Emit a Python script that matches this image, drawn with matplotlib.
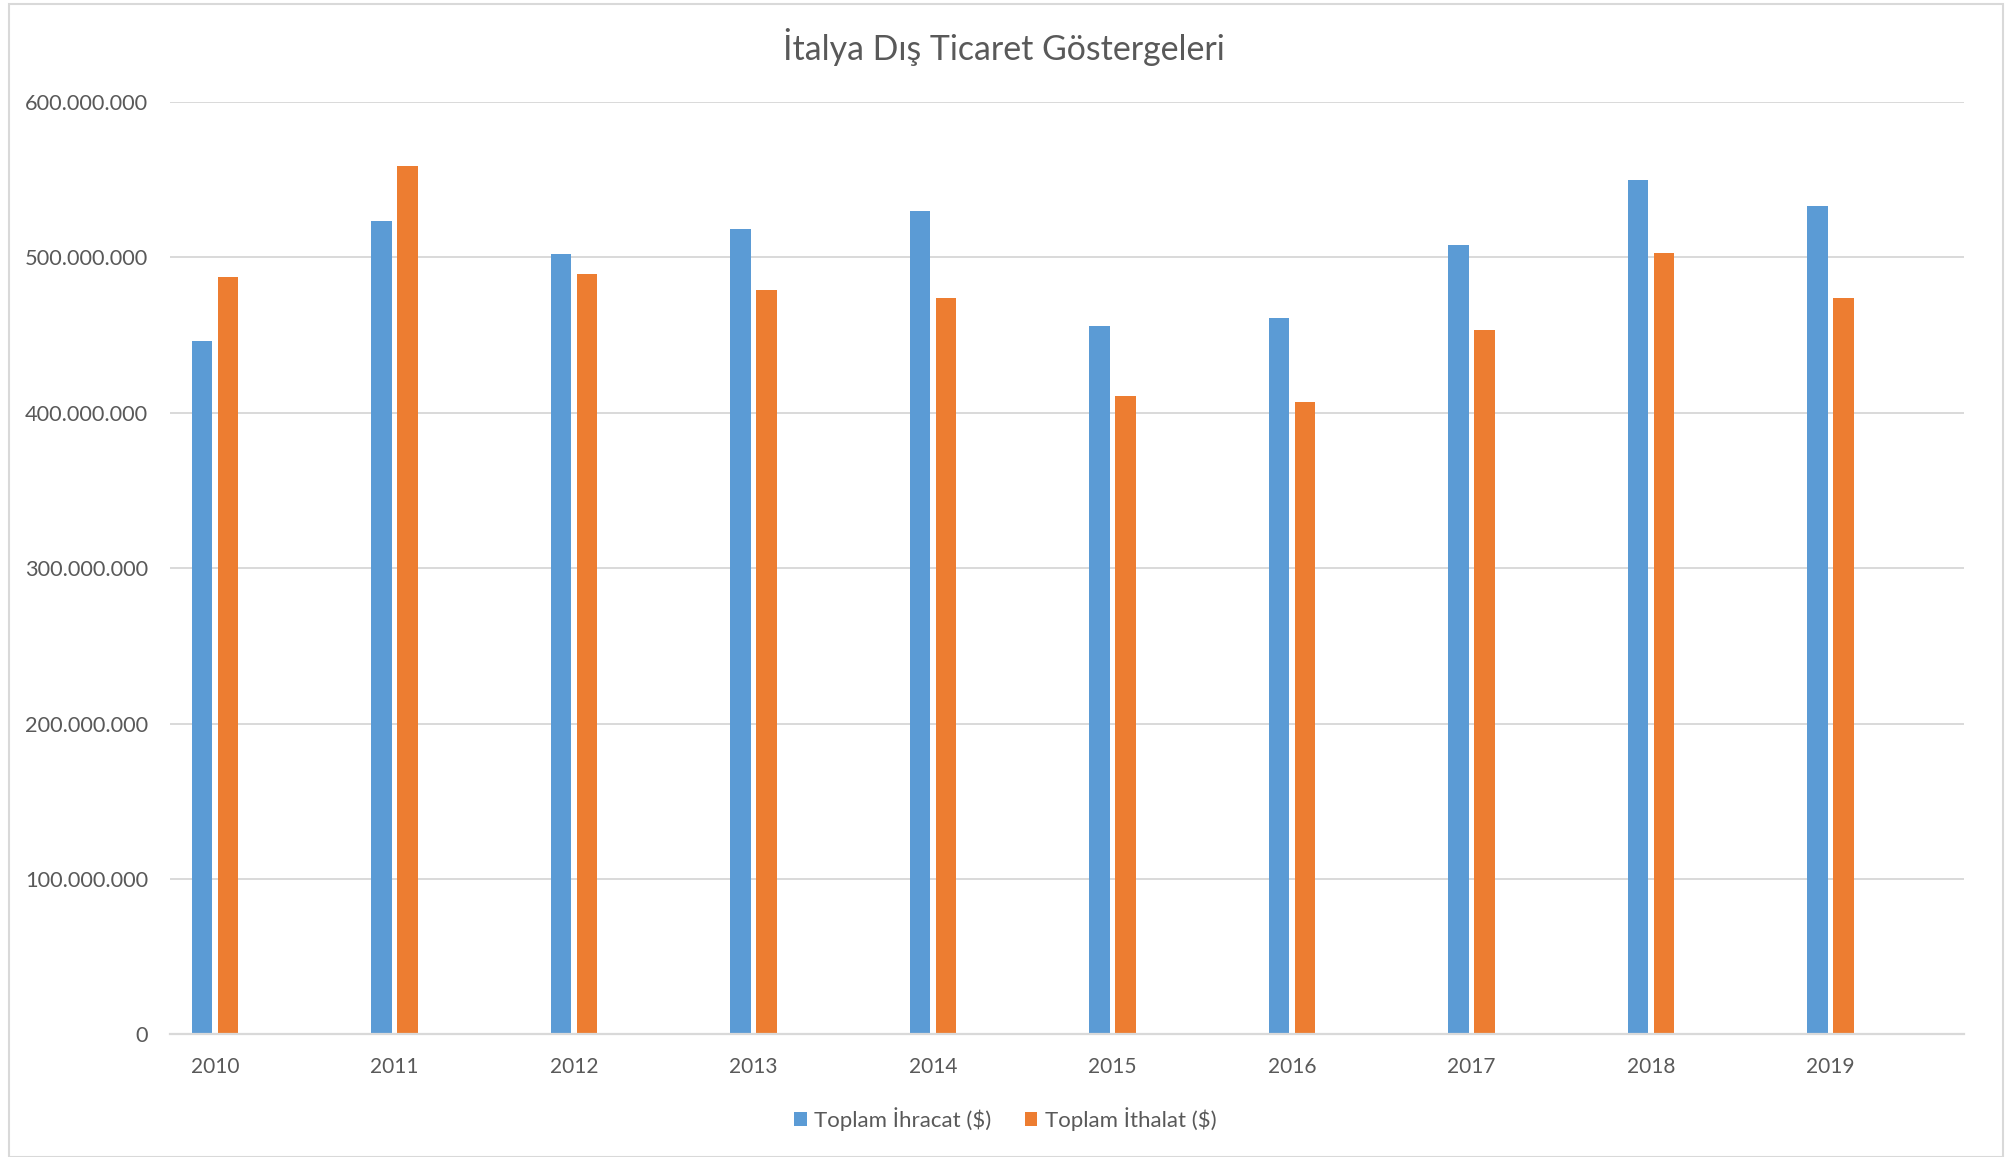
import numpy as np
import matplotlib
matplotlib.use("Agg")
import matplotlib.pyplot as plt
from matplotlib.patches import Rectangle
from matplotlib.ticker import FuncFormatter, MultipleLocator

years = ["2010", "2011", "2012", "2013", "2014", "2015", "2016", "2017", "2018", "2019"]
ihracat = [446e6, 523e6, 502e6, 518e6, 530e6, 456e6, 461e6, 508e6, 550e6, 533e6]
ithalat = [487e6, 559e6, 489e6, 479e6, 474e6, 411e6, 407e6, 453e6, 503e6, 474e6]
series_names = ["Toplam İhracat ($)", "Toplam İthalat ($)"]

BLUE = "#5B9BD5"
ORANGE = "#ED7D31"
GRID = "#D9D9D9"
TEXT = "#595959"

plt.rcParams["font.family"] = ["Lato", "DejaVu Sans"]

fig = plt.figure(figsize=(20.11, 11.57), dpi=100)
ax = fig.add_axes([0.0846, 0.106, 0.892, 0.806])

x = np.arange(len(years))
w = 0.115
off = 0.072
ax.bar(x - off, ihracat, width=w, color=BLUE, label=series_names[0], zorder=3)
ax.bar(x + off, ithalat, width=w, color=ORANGE, label=series_names[1], zorder=3)

# the category axis in the original leaves more room on the right than on the left
ax.set_xlim(-0.25, len(years) - 1 + 0.743)
ax.set_ylim(0, 600e6)
ax.yaxis.set_major_locator(MultipleLocator(100e6))
ax.yaxis.set_major_formatter(FuncFormatter(lambda v, p: f"{int(v):,}".replace(",", ".")))
ax.set_xticks(x)
ax.set_xticklabels(years)

ax.grid(axis="y", color=GRID, linewidth=1.4, zorder=0)
for s in ["top", "right", "left"]:
    ax.spines[s].set_visible(False)
ax.spines["bottom"].set_color(GRID)
ax.spines["bottom"].set_linewidth(1.6)
ax.spines["bottom"].set_zorder(4)
ax.tick_params(axis="both", length=0, labelcolor=TEXT)
ax.tick_params(axis="x", pad=16, labelsize=15)
ax.tick_params(axis="y", pad=16, labelsize=15.7)

fig.text(0.499, 0.959, "İtalya Dış Ticaret Göstergeleri", ha="center", va="center",
         fontsize=24.4, color=TEXT)

fig.legend(loc="center", bbox_to_anchor=(0.5, 0.033), ncol=2, frameon=False,
           fontsize=16, labelcolor=TEXT, handlelength=0.55, handleheight=0.55,
           handletextpad=0.35, columnspacing=1.5)

fig.patches.append(Rectangle((0.0045, 0.0), 0.9915, 0.9965, transform=fig.transFigure,
                             fill=False, edgecolor=GRID, linewidth=1.5))

fig.savefig("out.png", dpi=100, facecolor="white")
